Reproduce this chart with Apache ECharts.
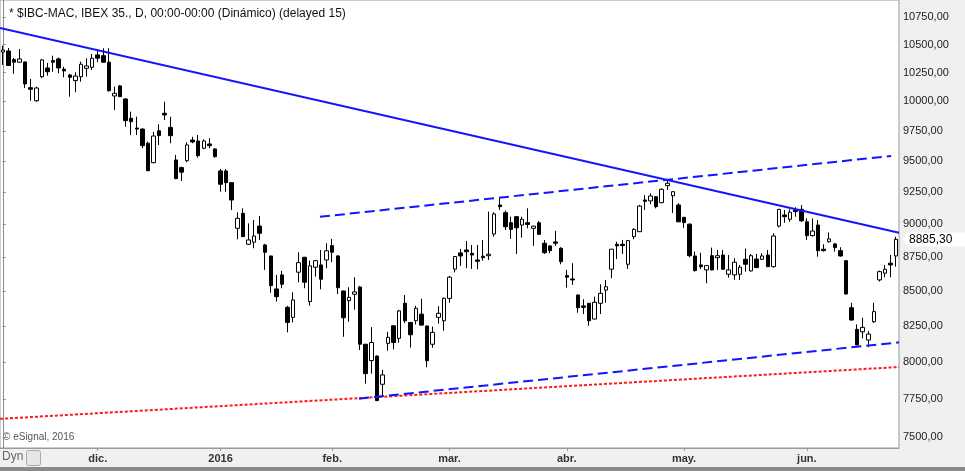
<!DOCTYPE html>
<html><head><meta charset="utf-8">
<script src="https://cdn.jsdelivr.net/npm/echarts@6/dist/echarts.min.js"></script>
<style>html,body{margin:0;padding:0;background:#f0f0f0}#c{width:965px;height:471px}</style>
</head><body><div id="c"></div><script>
// trading days per month
const nov2015 = [6,9,10,11,12,13,16,17,18,19,20,23,24,25,26,27,30];
const dec2015 = [1,2,3,4,7,8,9,10,11,14,15,16,17,18,21,22,23,24,28,29,30,31];
const jan2016 = [4,5,6,7,8,11,12,13,14,15,18,19,20,21,22,25,26,27,28,29];
const feb2016 = [1,2,3,4,5,8,9,10,11,12,15,16,17,18,19,22,23,24,25,26,29];
const mar2016 = [1,2,3,4,7,8,9,10,11,14,15,16,17,18,21,22,23,24,29,30,31];
const apr2016 = [1,4,5,6,7,8,11,12,13,14,15,18,19,20,21,22,25,26,27,28,29];
const may2016 = [2,3,4,5,6,9,10,11,12,13,16,17,18,19,20,23,24,25,26,27,30,31];
const jun2016 = [1,2,3,6,7,8,9,10,13,14,15,16,17,20,21,22,23];

// [open, close, low, high]
const ohlc = [
[10433,10451,10318,10489],[10442,10313,10311,10469],[10365,10342,10240,10380],[10342,10371,10335,10460],
[10344,10151,10116,10347],[10119,10105,10006,10194],[10006,10116,9997,10128],[10214,10362,10203,10371],
[10291,10258,10223,10335],[10356,10342,10258,10400],[10371,10291,10244,10383],[10280,10265,10209,10302],
[10229,10209,10041,10238],[10180,10220,10079,10253],[10214,10324,10171,10347],[10288,10309,10214,10377],
[10297,10377,10273,10415],[10407,10377,10342,10460],[10400,10342,10340,10466],[10342,10093,10084,10466],
[10047,10070,9927,10128],[10134,10041,10038,10142],[10021,9837,9786,10027],[9857,9828,9716,9913],
[9775,9766,9716,9870],[9766,9628,9607,9772],[9648,9424,9420,9661],[9489,9708,9484,9743],
[9752,9711,9634,9806],[9899,9885,9842,9997],[9780,9711,9648,9870],[9511,9360,9356,9552],
[9449,9412,9342,9457],[9505,9634,9492,9656],[9675,9659,9648,9702],[9667,9546,9530,9716],
[9607,9667,9599,9681],[9642,9628,9607,9689],[9601,9538,9530,9607],[9422,9315,9256,9438],
[9422,9328,9256,9438],[9328,9190,9112,9330],[8970,9047,8886,9094],[9086,8906,8904,9125],
[8848,8881,8843,9008],[8864,8911,8818,9034],[8987,8932,8881,9065],[8843,8788,8656,8851],
[8760,8540,8488,8762],[8516,8460,8424,8619],[8619,8550,8521,8649],[8383,8275,8205,8393],
[8311,8436,8275,8491],[8639,8710,8565,8788],[8750,8565,8521,8753],[8424,8686,8395,8725],
[8676,8725,8606,8730],[8693,8587,8513,8805],[8730,8799,8669,8856],[8838,8788,8713,8889],
[8760,8525,8479,8767],[8501,8308,8174,8503],[8431,8455,8280,8528],[8477,8494,8366,8602],
[8530,8122,8082,8538],[8122,7920,7852,8124],[8009,8134,7920,8242],[8040,7739,7735,8045],
[7848,7911,7764,7945],[8128,8170,8077,8209],[8251,8134,8087,8256],[8163,8357,8133,8364],
[8412,8287,8270,8472],[8275,8188,8099,8277],[8287,8376,8261,8393],[8334,8256,8252,8445],
[8250,8008,7963,8252],[8122,8205,8097,8246],[8311,8340,8267,8391],[8287,8448,8216,8454],
[8447,8602,8416,8612],[8662,8756,8638,8760],[8783,8760,8686,8813],[8805,8792,8669,8873],
[8780,8767,8663,8843],[8730,8720,8661,8843],[8758,8747,8725,8881],[8762,8773,8730,9099],
[8926,9081,8906,9094],[9151,9138,9112,9204],[9091,8982,8957,9107],[9013,8962,8889,9060],
[9060,8974,8775,9065],[8995,9040,8899,9060],[9013,9000,8970,9125],[8970,8987,8836,8990],
[9013,8924,8919,9026],[8856,8785,8775,8881],[8836,8800,8780,8838],[8866,8856,8836,8951],
[8818,8717,8698,8826],[8614,8602,8525,8656],[8589,8582,8545,8706],[8472,8380,8344,8475],
[8393,8383,8335,8441],[8412,8287,8251,8414],[8299,8419,8296,8460],[8412,8484,8335,8550],
[8508,8532,8416,8582],[8661,8811,8594,8813],[8848,8836,8737,8868],[8848,8838,8775,8881],
[8698,8876,8663,8881],[8906,8962,8886,8970],[8944,9143,8942,9151],[9190,9180,9112,9230],
[9183,9222,9157,9243],[9216,9138,9125,9222],[9169,9275,9165,9283],[9304,9323,9269,9350],
[9224,9256,9088,9258],[9151,9020,9018,9165],[9055,9014,8974,9057],[9002,8762,8750,9008],
[8760,8651,8643,8793],[8693,8680,8663,8784],[8656,8688,8557,8693],[8762,8656,8653,8823],
[8747,8762,8656,8805],[8767,8661,8659,8805],[8624,8656,8599,8767],[8619,8713,8582,8743],
[8624,8676,8582,8693],[8735,8698,8643,8816],[8649,8762,8643,8775],[8737,8673,8669,8775],
[8735,8760,8730,8780],[8767,8680,8678,8805],[8680,8911,8673,8932],[8987,9117,8977,9119],
[9073,9060,9013,9112],[9040,9094,9020,9117],[9112,9099,9060,9133],[9117,9028,9020,9151],
[9020,8914,8881,9047],[8914,8949,8906,9047],[8995,8800,8755,9034],[8811,8800,8793,8848],
[8868,8889,8861,8939],[8851,8823,8793,8856],[8800,8760,8755,8826],[8725,8479,8476,8730],
[8380,8292,8287,8416],[8226,8117,8115,8262],[8209,8240,8163,8308],[8151,8193,8101,8214],
[8280,8352,8272,8416],[8582,8643,8570,8651],[8632,8661,8602,8693],[8706,8693,8602,8767],
[8760,8885.3,8680,8906]
];

const monthTickDates = ['2015-12-01','2016-01-04','2016-02-01','2016-03-01','2016-04-01','2016-05-02','2016-06-01'];
const monthTickLabels = ['dic.','2016','feb.','mar.','abr.','may.','jun.'];
const priceTicks = [7500,7750,8000,8250,8500,8750,9000,9250,9500,9750,10000,10250,10500,10750];

// trend lines: [bar index, price]
const trendDown = [[-0.5,10650],[160.5,8936]];
const channelTop = [[56.8,9059],[159.1,9544]];
const channelBottom = [[63.8,7752],[160.5,8135]];
const supportRed = [[-0.5,7619],[160.5,7965]];

const title = '* $IBC-MAC, IBEX 35., D, 00:00-00:00 (Dinámico) (delayed 15)';

const months = [[2015,11,nov2015],[2015,12,dec2015],[2016,1,jan2016],[2016,2,feb2016],[2016,3,mar2016],[2016,4,apr2016],[2016,5,may2016],[2016,6,jun2016]];
const categories = [];
months.forEach(([y,m,days]) => days.forEach(d => categories.push(y+'-'+String(m).padStart(2,'0')+'-'+String(d).padStart(2,'0'))));
const tickMap = {};
monthTickDates.forEach((d,i) => tickMap[d] = monthTickLabels[i]);
const isTick = (idx, val) => tickMap[categories[idx]] !== undefined;
const fmt = v => Number(v).toFixed(2).replace('.', ',');
const lastClose = ohlc[ohlc.length-1][1];
const FONT = "'Liberation Sans', Arial, sans-serif";

const chart = echarts.init(document.getElementById('c'), null, {renderer:'canvas'});
const lineSeries = (data, color, type) => ({
  type:'line', xAxisIndex:1, yAxisIndex:0, data, symbol:'none', silent:true,
  lineStyle:{color, width:2, type}, z:5
});
chart.setOption({
  animation:false,
  backgroundColor:'#f0f0f0',
  textStyle:{fontFamily:FONT},
  title:{text:title, left:4, top:3, textStyle:{fontSize:12, fontWeight:'normal', color:'#111', fontFamily:FONT}},
  grid:{left:0, right:66, top:0, bottom:23, show:true, backgroundColor:'#ffffff', borderColor:'#9a9a9a', borderWidth:1},
  xAxis:[{
    type:'category', data:categories, boundaryGap:true, position:'bottom',
    axisLine:{show:true, lineStyle:{color:'#9a9a9a'}},
    axisTick:{show:true, interval:isTick, alignWithLabel:true, length:3, lineStyle:{color:'#9a9a9a'}},
    axisLabel:{interval:isTick, formatter:v => tickMap[v] || '', color:'#333', fontWeight:'bold', fontSize:11, margin:5, fontFamily:FONT},
    splitLine:{show:false}
  },{
    type:'value', min:-0.5, max:160.5, show:false
  }],
  yAxis:{
    type:'log', logBase:10, position:'right', min:7431, max:10908, scale:true,
    axisLine:{show:true, lineStyle:{color:'#8a8a8a'}},
    axisTick:{show:true, customValues:priceTicks, length:3, lineStyle:{color:'#8a8a8a'}},
    axisLabel:{customValues:priceTicks, formatter:fmt, color:'#222', fontSize:11, margin:4, fontFamily:FONT},
    splitLine:{show:false}
  },
  graphic:[
    {id:'copy', type:'text', left:3, top:432, style:{text:'© eSignal, 2016', fill:'#555', font:'10px '+FONT}},
    {id:'dyn', type:'text', left:2, top:451, style:{text:'Dyn', fill:'#666', font:'12px '+FONT}},
    {id:'lock', type:'rect', left:26, top:450, shape:{width:14, height:15, r:2}, style:{fill:'#e6e6e6', stroke:'#aaa', lineWidth:1}},
    {id:'foot', type:'rect', left:0, top:467, shape:{width:965, height:4}, style:{fill:'#8a8a8a'}}
  ],
  series:[
    lineSeries(supportRed, '#ff1a1a', [3,2]),
    lineSeries(channelBottom, '#1414ff', [10,5]),
    lineSeries(channelTop, '#1414ff', [10,5]),
    lineSeries(trendDown, '#1414ff', 'solid'),
    {
      type:'candlestick', xAxisIndex:0, yAxisIndex:0, data:ohlc, barWidth:4, silent:true, z:3,
      itemStyle:{color:'#ffffff', color0:'#000000', borderColor:'#000000', borderColor0:'#000000', borderWidth:1}
    }
  ]
});

// last-price tag on the right axis, positioned through the axis scale
const py = chart.convertToPixel({yAxisIndex:0}, lastClose);
const px = chart.convertToPixel({xAxisIndex:1}, 160.5);
chart.setOption({graphic:[
  {id:'tag', type:'polygon', shape:{points:[[px+3,py],[px+9,py-7],[965,py-7],[965,py+7],[px+9,py+7]]}, style:{fill:'#ffffff'}, z:10},
  {id:'tagText', type:'text', x:px+10, y:py-6, style:{text:fmt(lastClose), fill:'#000', font:'12px '+FONT}, z:11}
]});
</script></body></html>
